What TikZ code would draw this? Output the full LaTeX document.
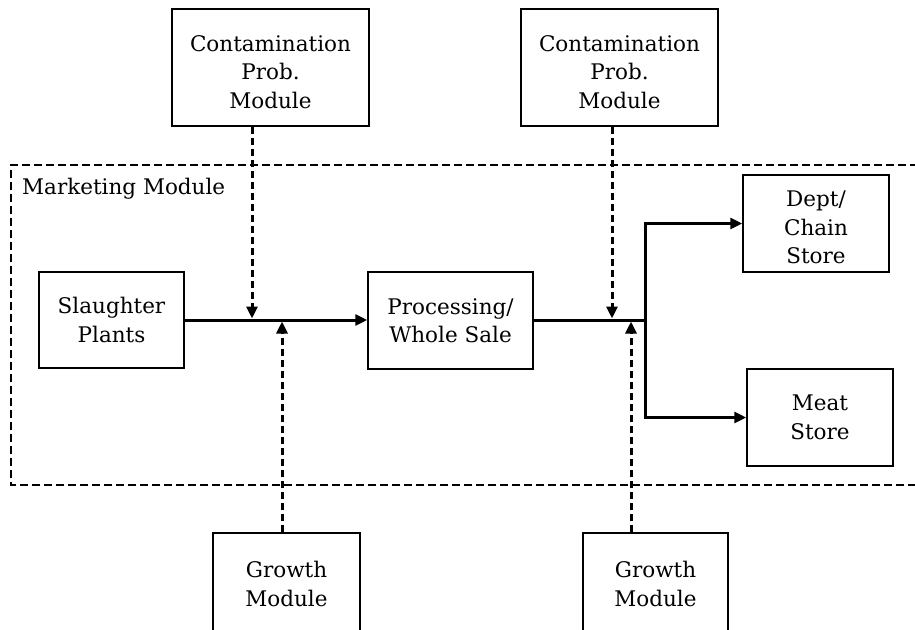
\documentclass[tikz,border=0pt]{standalone}
\usepackage{fontspec}
\setmainfont{DejaVu Serif}
\usetikzlibrary{arrows.meta}
\begin{document}
\begin{tikzpicture}[x=1pt,y=-1pt,
  txt/.style={font=\fontsize{21.5}{28.5}\selectfont,align=center},
  box/.style={draw,line width=1.5pt,align=center,inner sep=0pt,txt},
  frame3/.style={draw,line width=1.5pt,inner sep=0pt},
  flow/.style={line width=3pt,-{Triangle[length=12pt,width=11pt]}},
  flowline/.style={line width=3pt},
  dflow/.style={line width=3pt,dash pattern=on 7pt off 4pt,-{Triangle[length=12pt,width=11pt]}},
  mbox/.style={line width=2.4pt,dash pattern=on 8pt off 4pt}]
\useasboundingbox (0,0) rectangle (915,629);
\clip (0,0) rectangle (915,629);
% marketing module frame
\coordinate (mtr) at (930,165);
\coordinate (mtl) at (11,165);
\coordinate (mbl) at (11,485);
\coordinate (mbr) at (930,485);
\draw[mbox] (mtr) -- (mtl) -- (mbl) -- (mbr);
\node[anchor=west,txt,inner sep=0pt] (mlabel) at (22,189) {Marketing Module};
% boxes
\node[frame3,minimum width=197pt,minimum height=117pt,
  label={[txt,yshift=-4.5pt]center:Contamination\\Prob.\\Module}] (top1) at (270.5,67.5) {};
\node[frame3,minimum width=197pt,minimum height=117pt,
  label={[txt,yshift=-4.5pt]center:Contamination\\Prob.\\Module}] (top2) at (619.5,67.5) {};
\node[box,minimum width=145pt,minimum height=96pt] (slaughter) at (111.5,320) {Slaughter\\Plants};
\node[box,minimum width=165pt,minimum height=97pt] (proc) at (450.5,320.5) {Processing/\\Whole Sale};
\node[frame3,minimum width=146pt,minimum height=97pt,
  label={[txt,yshift=-4pt]center:Dept/\\Chain\\Store}] (dept) at (816,223.5) {};
\node[box,minimum width=146pt,minimum height=97pt] (meat) at (820,417.5) {Meat\\Store};
\node[box,minimum width=147pt,minimum height=102pt] (g1) at (286.5,584) {Growth\\Module};
\node[box,minimum width=145pt,minimum height=102pt] (g2) at (655.5,584) {Growth\\Module};
% junctions
\coordinate (j1) at (252,318.5);
\coordinate (j2) at (282,321.5);
\coordinate (j3) at (612,318.5);
\coordinate (j4) at (631,321.5);
\coordinate (split) at (645,320);
% connectors
\draw[flow] (slaughter.east) -- (slaughter.east -| proc.west);
\draw[flowline] (proc.east |- split) -- (split);
\draw[flow] (split) |- (dept.west);
\draw[flow] (split) |- (meat.west);
\draw[dflow] (top1.south -| j1) -- (j1);
\draw[dflow] (g1.north -| j2) -- (j2);
\draw[dflow] (top2.south -| j3) -- (j3);
\draw[dflow] (g2.north -| j4) -- (j4);
\end{tikzpicture}
\end{document}
